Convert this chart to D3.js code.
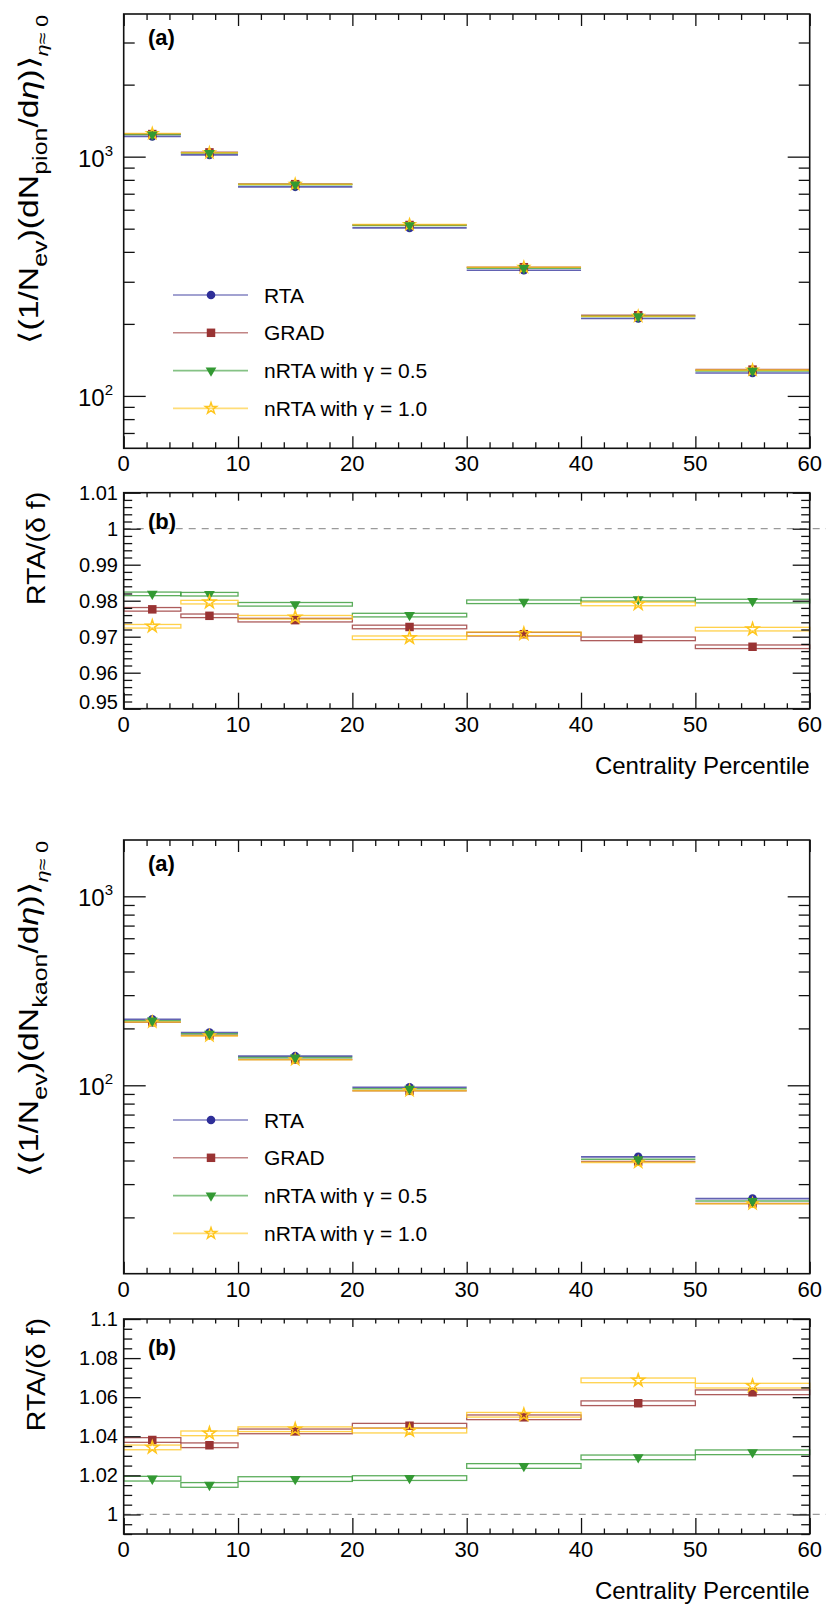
<!DOCTYPE html>
<html>
<head>
<meta charset="utf-8">
<script src="https://cdn.jsdelivr.net/npm/d3@7"></script>
<style>
  body { margin: 0; background: #fff; }
  svg { display: block; font-family: "Liberation Sans", Arial, Helvetica, sans-serif; }
</style>
</head>
<body>
<div id="chart"></div>
<script>
// centrality bins and labels
const binEdges = [0, 5, 10, 20, 30, 40, 50, 60];
const seriesNames = ["RTA", "GRAD", "nRTA with γ = 0.5", "nRTA with γ = 1.0"];
const xTicks = [0, 10, 20, 30, 40, 50, 60];

// pion yields (top panel)
const pionRTA = [1215, 1017, 748, 504, 335, 210.7, 124.6];
const pionGRAD = [1243, 1042, 767.5, 518, 345.1, 217.3, 128.8];
const pionN05 = [1237, 1036, 764, 516.4, 341.9, 214.9, 127.2];
const pionN10 = [1249, 1038, 767, 519.8, 345.1, 215.2, 128.2];
const pionRange = [60.4, 3947];

// pion ratios RTA/(δf)
const pionRatioGRAD = [0.9776, 0.9758, 0.9746, 0.9727, 0.9707, 0.9694, 0.9672];
const pionRatioN05 = [0.9819, 0.9818, 0.9790, 0.9760, 0.9797, 0.9804, 0.9799];
const pionRatioN10 = [0.9729, 0.9796, 0.9754, 0.9697, 0.9708, 0.9791, 0.9721];
const pionRatioErr = 0.0005;
const pionRatioRange = [0.95, 1.01];
const pionRatioTicks = [0.95, 0.96, 0.97, 0.98, 0.99, 1, 1.01];
const pionRatioLabels = ["0.95", "0.96", "0.97", "0.98", "0.99", "1", "1.01"];

// kaon yields (no value drawn for 30-40)
const kaonRTA = [223.7, 190.2, 142.6, 97.7, null, 41.8, 25.15];
const kaonGRAD = [215.5, 183.7, 136.8, 93.5, null, 39.5, 23.7];
const kaonN05 = [219.7, 187.4, 140.1, 95.9, null, 40.6, 24.4];
const kaonN10 = [216.3, 182.6, 136.6, 93.7, null, 39.1, 23.6];
const kaonRange = [10.07, 1986];

// kaon ratios
const kaonRatioGRAD = [1.0381, 1.0354, 1.0425, 1.0454, 1.0497, 1.0569, 1.0625];
const kaonRatioN05 = [1.0183, 1.0151, 1.0181, 1.0186, 1.0248, 1.0292, 1.0318];
const kaonRatioN10 = [1.0343, 1.0415, 1.0436, 1.0429, 1.0510, 1.0686, 1.0659];
const kaonRatioErr = 0.0012;
const kaonRatioRange = [0.99, 1.1];
const kaonRatioTicks = [1, 1.02, 1.04, 1.06, 1.08, 1.1];
const kaonRatioLabels = ["1", "1.02", "1.04", "1.06", "1.08", "1.1"];

const W = 826, H = 1606;
const L = 123.7, R = 809.7;

const styles = [
  { color: "#2e2e98", symbol: d3.symbolCircle, size: 58, rot: 0 },
  { color: "#993333", symbol: d3.symbolSquare, size: 72, rot: 0 },
  { color: "#339933", symbol: d3.symbolTriangle, size: 50, rot: 180 },
  { color: "#ffc61e", symbol: d3.symbolStar, size: 38, rot: 0, open: true }
];

const svg = d3.select("#chart").append("svg").attr("width", W).attr("height", H);
svg.append("rect").attr("width", W).attr("height", H).attr("fill", "#fff");

const x = d3.scaleLinear().domain([0, 60]).range([L, R]);
const bins = binEdges.slice(0, -1).map((lo, i) => ({ lo, hi: binEdges[i + 1], mid: (lo + binEdges[i + 1]) / 2 }));

function marker(g, st, cx, cy) {
  g.append("path")
    .attr("d", d3.symbol(st.symbol, st.size)())
    .attr("transform", `translate(${cx},${cy}) rotate(${st.rot})`)
    .attr("fill", st.open ? "none" : st.color)
    .attr("stroke", st.open ? st.color : "none")
    .attr("stroke-width", 1.5);
}

function frame(g, y, top, bottom, o) {
  const add = (axis, tx, ty) =>
    g.append("g")
      .attr("transform", `translate(${tx},${ty})`)
      .call(axis)
      .call((s) => {
        s.select(".domain").remove();
        s.selectAll("line").attr("stroke", "#111").attr("stroke-width", 1.3);
      });
  const xMinor = d3.range(0, 61, 2).filter((v) => v % 10 !== 0);
  add(d3.axisBottom(x).tickValues(xMinor).tickSize(-o.xbMinor).tickFormat(""), 0, bottom);
  add(d3.axisBottom(x).tickValues(xTicks).tickSize(-o.xbMajor).tickFormat(""), 0, bottom);
  add(d3.axisTop(x).tickValues(xMinor).tickSize(-o.xtMinor).tickFormat(""), 0, top);
  add(d3.axisTop(x).tickValues(xTicks).tickSize(-o.xtMajor).tickFormat(""), 0, top);
  add(d3.axisLeft(y).tickValues(o.yMinor).tickSize(-o.yMinorLen).tickFormat(""), L, 0);
  add(d3.axisLeft(y).tickValues(o.yMajor).tickSize(-o.yMajorLen).tickFormat(""), L, 0);
  add(d3.axisRight(y).tickValues(o.yMinor).tickSize(-o.yMinorLen).tickFormat(""), R, 0);
  add(d3.axisRight(y).tickValues(o.yMajor).tickSize(-o.yMajorLen).tickFormat(""), R, 0);

  g.append("rect")
    .attr("x", L).attr("y", top)
    .attr("width", R - L).attr("height", bottom - top)
    .attr("fill", "none").attr("stroke", "#111").attr("stroke-width", 1.6);

  g.append("g").selectAll("text").data(xTicks).join("text")
    .attr("x", (d) => x(d))
    .attr("y", bottom + 23)
    .attr("text-anchor", "middle")
    .attr("font-size", 22)
    .text((d) => d);
}

function yieldPanel(top, bottom, range, series, particle, legendTop) {
  const g = svg.append("g");
  const y = d3.scaleLog().domain(range).range([bottom, top]);
  const yMinor = [];
  [1, 10, 100, 1000].forEach((dec) => d3.range(2, 10).forEach((m) => {
    const v = m * dec;
    if (v > range[0] && v < range[1]) yMinor.push(v);
  }));
  const yMajor = [100, 1000];

  // horizontal bin lines
  series.forEach((vals, si) => {
    const pts = bins.map((b, i) => ({ ...b, v: vals[i] })).filter((d) => d.v != null);
    g.append("g").selectAll("line").data(pts)
      .join("line")
      .attr("x1", (d) => x(d.lo)).attr("x2", (d) => x(d.hi))
      .attr("y1", (d) => y(d.v)).attr("y2", (d) => y(d.v))
      .attr("stroke", styles[si].color)
      .attr("stroke-opacity", 0.75)
      .attr("stroke-width", 1.6);
  });
  // markers: blue, red, yellow, green on top
  [0, 1, 3, 2].forEach((si) => {
    series[si].forEach((v, i) => {
      if (v != null) marker(g, styles[si], x(bins[i].mid), y(v));
    });
  });

  frame(g, y, top, bottom, {
    xbMinor: 6, xbMajor: 12, xtMinor: 6, xtMajor: 12,
    yMinor, yMajor, yMinorLen: 11, yMajorLen: 22
  });

  // log labels 10^n
  const lab = g.append("g").selectAll("text").data(yMajor).join("text")
    .attr("x", 113)
    .attr("y", (d) => y(d) + 10)
    .attr("text-anchor", "end")
    .attr("font-size", 24);
  lab.append("tspan").text("10");
  lab.append("tspan").attr("dy", -11).attr("font-size", 15).text((d) => Math.round(Math.log10(d)));

  // y title
  const t = g.append("text")
    .attr("transform", `translate(38,${top + 1}) rotate(-90) scale(1.25,1)`)
    .attr("text-anchor", "end")
    .attr("font-size", 27);
  t.append("tspan").text("⟨(1/N");
  t.append("tspan").attr("dy", 9).attr("font-size", 20).text("ev");
  t.append("tspan").attr("dy", -9).text(")(dN");
  t.append("tspan").attr("dy", 9).attr("font-size", 20).text(particle);
  t.append("tspan").attr("dy", -9).text("/d");
  t.append("tspan").attr("font-style", "italic").text("η");
  t.append("tspan").text(")⟩");
  t.append("tspan").attr("dy", 10).attr("font-size", 17).attr("font-style", "italic").text("η");
  t.append("tspan").attr("font-size", 17).text("≈ 0");

  g.append("text").attr("x", 148).attr("y", top + 30.5)
    .attr("font-size", 22).attr("font-weight", "bold").text("(a)");

  // legend
  const lg = g.append("g");
  seriesNames.forEach((name, si) => {
    const ly = legendTop + si * 37.8;
    lg.append("line").attr("x1", 173).attr("x2", 248).attr("y1", ly).attr("y2", ly)
      .attr("stroke", styles[si].color).attr("stroke-opacity", 0.6).attr("stroke-width", 1.6);
    marker(lg, styles[si], 211, ly);
    lg.append("text").attr("x", 264).attr("y", ly + 7.5).attr("font-size", 21).text(name);
  });
}

function ratioPanel(top, bottom, range, series, err, ticks, labels, yMinor, labelShift) {
  const g = svg.append("g");
  const y = d3.scaleLinear().domain(range).range([bottom, top]);

  g.append("line").attr("x1", L).attr("x2", W).attr("y1", y(1)).attr("y2", y(1))
    .attr("stroke", "#9a9a9a").attr("stroke-width", 1.3).attr("stroke-dasharray", "7,6");

  series.forEach((vals, k) => {
    const st = styles[k + 1];
    g.append("g").selectAll("rect").data(vals).join("rect")
      .attr("x", (d, i) => x(bins[i].lo))
      .attr("width", (d, i) => x(bins[i].hi) - x(bins[i].lo))
      .attr("y", (d) => y(d + err))
      .attr("height", (d) => y(d - err) - y(d + err))
      .attr("fill", "none")
      .attr("stroke", st.color)
      .attr("stroke-opacity", 0.8)
      .attr("stroke-width", 1.3);
  });
  series.forEach((vals, k) => {
    const st = k === 2 ? { ...styles[3], size: 48 } : styles[k + 1];
    vals.forEach((v, i) => marker(g, st, x(bins[i].mid), y(v)));
  });

  frame(g, y, top, bottom, {
    xbMinor: 5.5, xbMajor: 16, xtMinor: 4.5, xtMajor: 8,
    yMinor, yMajor: ticks, yMinorLen: 8.5, yMajorLen: 17
  });

  g.append("g").selectAll("text").data(ticks).join("text")
    .attr("x", 118)
    .attr("y", (d, i) => y(d) + 7 - (i === 0 ? labelShift : 0))
    .attr("text-anchor", "end")
    .attr("font-size", 20)
    .text((d, i) => labels[i]);

  g.append("text")
    .attr("transform", `translate(45,${top - 1}) rotate(-90) scale(1.1,1)`)
    .attr("text-anchor", "end")
    .attr("font-size", 26)
    .text("RTA/(δ f)");

  g.append("text").attr("x", 148).attr("y", top + 36)
    .attr("font-size", 22).attr("font-weight", "bold").text("(b)");

  g.append("text").attr("x", R).attr("y", bottom + 65)
    .attr("text-anchor", "end").attr("font-size", 24).text("Centrality Percentile");
}

const pionMinor = d3.range(0, 31).filter((i) => i % 5 !== 0).map((i) => 0.95 + i * 0.002);
const kaonMinor = d3.range(0, 23).filter((i) => (i - 2) % 4 !== 0).map((i) => 0.99 + i * 0.005);

yieldPanel(14, 448.3, pionRange, [pionRTA, pionGRAD, pionN05, pionN10], "pion", 295);
ratioPanel(492.7, 708.7, pionRatioRange, [pionRatioGRAD, pionRatioN05, pionRatioN10],
  pionRatioErr, pionRatioTicks, pionRatioLabels, pionMinor, 7);
yieldPanel(840, 1273.7, kaonRange, [kaonRTA, kaonGRAD, kaonN05, kaonN10], "kaon", 1120);
ratioPanel(1319, 1534, kaonRatioRange, [kaonRatioGRAD, kaonRatioN05, kaonRatioN10],
  kaonRatioErr, kaonRatioTicks, kaonRatioLabels, kaonMinor, 0);
</script>
</body>
</html>
